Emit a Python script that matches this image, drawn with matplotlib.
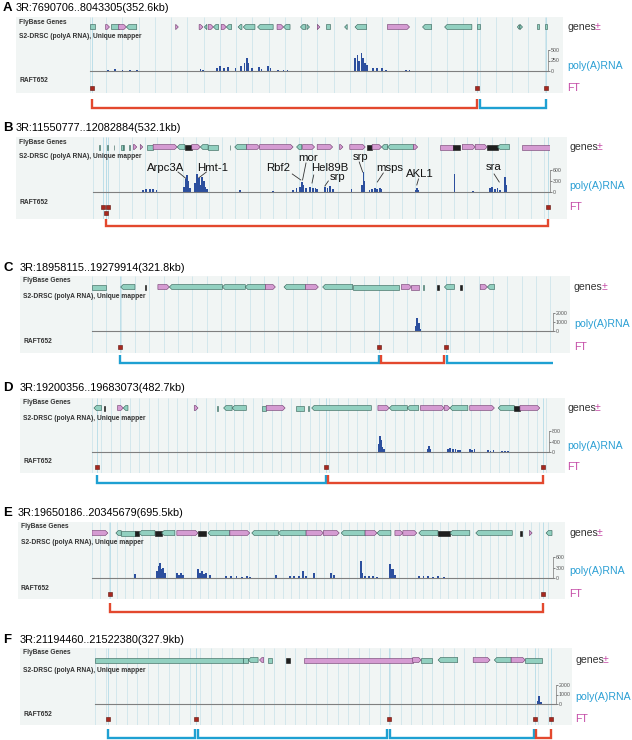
import numpy as np
import matplotlib.pyplot as plt
from matplotlib.patches import Polygon, Rectangle

plt.rcParams['font.family'] = ['Liberation Sans', 'DejaVu Sans']

# ---------------- data (positions in kb from window start) ----------------
letters = ['A', 'B', 'C', 'D', 'E', 'F']
titles = ['3R:7690706..8043305(352.6kb)', '3R:11550777..12082884(532.1kb)',
          '3R:18958115..19279914(321.8kb)', '3R:19200356..19683073(482.7kb)',
          '3R:19650186..20345679(695.5kb)', '3R:21194460..21522380(327.9kb)']
lengths = [352.6, 532.1, 321.8, 482.7, 695.5, 327.9]
cov_max = [500, 600, 2000, 800, 600, 2000]
grid_steps = [12.5, 15, 10, 10, 12.5, 7.5]

# genes: (start, end, strand, kind)  kind: t=teal, p=pink, k=dark
a_genes = [(0, 4, 0, 't'), (12, 15, 1, 'p'), (16, 22, 0, 't'), (22, 28, 1, 'p'), (28, 36, -1, 't'),
           (66, 68, 1, 'p'), (84, 87, 1, 'p'), (88, 90, -1, 't'), (91, 95, 1, 'p'), (95, 99, -1, 't'),
           (101, 105, 1, 'p'), (105, 109, -1, 't'), (114, 117, -1, 't'), (118, 127, -1, 't'),
           (129, 141, -1, 't'), (144, 149, 1, 'p'), (149, 154, -1, 't'), (162, 166, -1, 't'),
           (167, 169, 1, 't'), (175, 177, 1, 'p'), (182, 185, 0, 't'), (196, 198, -1, 't'),
           (204, 213, -1, 't'), (229, 246, 1, 'p'), (256, 263, -1, 't'), (273, 294, -1, 't'),
           (298, 300, 0, 't'), (329, 330.5, -1, 't'), (331, 333, 1, 't'), (344, 346, 0, 't'),
           (350, 352, 0, 't')]
b_genes = [(7, 8, 0, 't'), (16, 17, 0, 't'), (24, 25, 0, 't'), (33, 34.5, 0, 't'), (35, 36, 0, 't'),
           (42, 43, 0, 't'), (47, 51, 1, 'p'), (55, 58, 1, 'p'), (63, 70, 0, 't'), (70, 98, 1, 'p'),
           (98, 107, -1, 't'), (107, 115, 0, 'k'), (115, 125, 1, 'p'), (125, 134, -1, 't'),
           (134, 146, 0, 't'), (159, 160, 0, 't'), (165, 179, -1, 't'), (179, 194, 1, 'p'),
           (194, 233, 1, 'p'), (237, 243, -1, 't'), (244, 258, 1, 'p'), (261, 279, 1, 'p'),
           (287, 291, 1, 'p'), (299, 317, 1, 'p'), (319, 325, 0, 'k'), (325, 336, 1, 'p'),
           (336, 343, -1, 't'), (343, 373, -1, 't'), (373, 378, 1, 'p'), (404, 419, 0, 'p'),
           (419, 427, 0, 'k'), (430, 445, 1, 'p'), (445, 459, 1, 'p'), (459, 471, 0, 'k'),
           (471, 485, -1, 't'), (499, 532, 0, 'p')]
c_genes = [(0, 10, 0, 't'), (20, 30, -1, 't'), (37, 38, 0, 'k'), (46, 54, 1, 'p'), (54, 91, -1, 't'),
           (91, 107, -1, 't'), (107, 121, -1, 't'), (121, 128, 1, 'p'), (134, 149, -1, 't'),
           (149, 158, 1, 'p'), (161, 182, -1, 't'), (182, 214, 0, 't'), (216, 223, 1, 'p'),
           (223, 228, 0, 'p'), (231, 232, 0, 't'), (241, 242, 0, 'k'), (246, 253, -1, 't'),
           (257, 258, 0, 'k'), (271, 276, 1, 'p'), (276, 281, -1, 't')]
d_genes = [(2, 10, -1, 't'), (13, 14, 0, 'k'), (27, 33, 1, 'p'), (33, 38, -1, 't'), (108, 112, 1, 'p'),
           (132, 133, 0, 't'), (139, 148, -1, 't'), (148, 163, -1, 't'), (180, 184, 0, 't'),
           (184, 204, 1, 'p'), (215, 224, 0, 't'), (228, 229, 0, 't'), (232, 295, -1, 't'),
           (302, 314, 1, 'p'), (314, 333, -1, 't'), (333, 345, -1, 't'), (347, 372, 1, 'p'),
           (372, 378, 1, 'p'), (378, 397, -1, 't'), (399, 425, 1, 'p'), (429, 446, -1, 't'),
           (446, 452, 0, 'k'), (452, 473, 1, 'p')]
e_genes = [(0, 24, 1, 'p'), (36, 44, -1, 't'), (44, 65, 0, 't'), (65, 71, 0, 'k'), (71, 95, -1, 't'),
           (95, 105, 0, 'k'), (105, 125, -1, 't'), (128, 160, 1, 'p'), (160, 172, 0, 'k'),
           (175, 208, -1, 't'), (208, 238, 1, 'p'), (241, 281, -1, 't'), (281, 323, -1, 't'),
           (323, 349, 1, 'p'), (349, 373, 1, 'p'), (376, 412, -1, 't'), (412, 430, 1, 'p'),
           (430, 451, -1, 't'), (457, 469, 1, 'p'), (469, 490, 1, 'p'), (493, 522, -1, 't'),
           (522, 540, 0, 'k'), (540, 570, -1, 't'), (579, 634, -1, 't'), (646, 648, 0, 'k'),
           (660, 664, 1, 'p'), (685, 694, -1, 't')]
f_genes = [(0, 105, 0, 't'), (105, 109, 0, 't'), (109, 116, -1, 't'), (117, 120, -1, 'p'),
           (123, 126, 0, 't'), (136, 139, 0, 'k'), (149, 226, 0, 'p'), (226, 232, 1, 'p'),
           (232, 240, 0, 't'), (244, 258, -1, 't'), (269, 281, 1, 'p'), (284, 296, -1, 't'),
           (296, 306, 1, 'p'), (306, 318, 0, 't')]

# poly(A) RNA coverage: (kb, reads)
a_cov = [(14, 30), (19, 40), (25, 35), (31, 30), (36, 25), (85, 40), (87, 30), (98, 80), (100, 120),
         (103, 60), (106, 90), (112, 60), (116, 110), (119, 190), (121, 310), (122, 200), (125, 80),
         (130, 90), (132, 40), (137, 120), (139, 60), (145, 30), (149, 25), (152, 25), (204, 300),
         (206, 380), (207, 250), (209, 430), (210, 320), (212, 200), (213, 150), (218, 60), (221, 80),
         (225, 70), (228, 30), (243, 30), (246, 30)]
b_cov = [(58, 60), (62, 80), (66, 70), (70, 90), (74, 50), (106, 150), (108, 350), (109, 460),
         (111, 300), (113, 120), (119, 250), (121, 500), (123, 380), (125, 200), (127, 420), (129, 300),
         (131, 150), (133, 80), (171, 50), (210, 40), (233, 60), (237, 100), (241, 150), (243, 270),
         (245, 180), (248, 120), (253, 150), (256, 100), (259, 120), (261, 80), (270, 150), (273, 120),
         (276, 160), (279, 80), (301, 80), (313, 200), (315, 540), (316, 300), (322, 60), (325, 80),
         (328, 100), (331, 90), (334, 110), (336, 70), (376, 60), (377, 100), (378, 50), (421, 500),
         (442, 40), (462, 100), (465, 150), (468, 80), (471, 120), (474, 60), (480, 400), (481, 200)]
c_cov = [(226, 600), (227, 1500), (228, 900), (229, 200)]
d_cov = [(303, 300), (304, 615), (305, 450), (306, 200), (308, 100), (355, 100), (356, 230), (357, 120),
         (376, 120), (378, 150), (381, 100), (384, 130), (387, 90), (389, 60), (399, 120), (401, 90),
         (404, 110), (418, 60), (421, 50), (424, 60), (433, 40), (436, 50), (439, 30)]
e_cov = [(65, 120), (98, 200), (101, 350), (103, 440), (105, 250), (107, 300), (110, 150), (128, 150),
         (131, 100), (134, 130), (137, 80), (160, 250), (163, 150), (166, 200), (169, 120), (172, 150),
         (178, 80), (202, 60), (210, 50), (218, 60), (226, 40), (234, 50), (238, 30), (278, 80),
         (299, 60), (305, 50), (312, 60), (318, 200), (323, 60), (335, 150), (361, 150), (365, 80),
         (406, 490), (408, 150), (412, 60), (418, 50), (424, 60), (430, 40), (450, 400), (452, 250),
         (454, 250), (457, 100), (493, 60), (500, 50), (507, 60), (515, 40), (522, 50), (531, 30)]
f_cov = [(315, 300), (316, 800), (317, 200)]

# FT (RAFT652) fragments: (kb, row)
a_ft = [(1.5, 0), (298, 0), (351, 0)]
b_ft = [(11.6, 0), (17.5, 0), (15, 1), (530, 0)]
c_ft = [(19.5, 0), (200, 0), (247, 0)]
d_ft = [(5.3, 0), (247, 0), (476, 0)]
e_ft = [(27, 0), (681, 0)]
f_ft = [(9, 0), (72, 0), (209, 0), (313, 0), (324, 0)]

# brackets: (start, end, colour, left vertical, right vertical)
a_br = [(1.5, 298, 'r', True, True), (300, 351, 'b', True, True)]
b_br = [(15, 530, 'r', True, True)]
c_br = [(19.5, 200, 'b', True, True), (201.5, 246, 'r', True, True), (248, 322, 'b', True, False)]
d_br = [(5.3, 247, 'b', True, True), (249, 476, 'r', True, True)]
e_br = [(27, 681, 'r', True, True)]
f_br = [(9, 71, 'b', True, True), (73, 208, 'b', True, True), (210, 312, 'b', True, True),
        (314, 324, 'r', True, True)]

# gene labels in panel B: (name, kb, y, leader x0, leader x1, leader y0, leader y1)
b_labels = [('Arpc3A', 85, 31, 99, 109, 35, 42), ('Hmt-1', 139, 31, 132, 123, 35, 41),
            ('Rbf2', 216, 31, 232, 242, 37, 43), ('mor', 250, 21, 248, 244, 26, 43),
            ('Hel89B', 276, 31, 257, 255, 38, 46), ('srp', 285, 40, 274, 270, 44, 49),
            ('srp', 311, 20, 310, 314, 25, 35), ('msps', 346, 31, 338, 331, 36, 45),
            ('AKL1', 381, 37, 379, 377, 42, 48), ('sra', 467, 30, 467, 473, 37, 45)]

genes = [a_genes, b_genes, c_genes, d_genes, e_genes, f_genes]
covs = [a_cov, b_cov, c_cov, d_cov, e_cov, f_cov]
fts = [a_ft, b_ft, c_ft, d_ft, e_ft, f_ft]
brs = [a_br, b_br, c_br, d_br, e_br, f_br]

# ---------------- layout (pixels) ----------------
layout = [
    dict(title=8, box=(16, 17, 563, 93), data=(90, 548), genes=27, base=71, top=50, ft=88, rna=66, br=108, brtop=99, rx=567),
    dict(title=128, box=(16, 137, 567, 219), data=(93, 550), genes=147, base=192, top=170, ft=207, rna=186, br=226, brtop=219, rx=569),
    dict(title=268, box=(20, 276, 570, 353), data=(92, 553), genes=287, base=331, top=313, ft=347, rna=324, br=363, brtop=355, rx=574),
    dict(title=388, box=(20, 398, 565, 473), data=(92, 549), genes=408, base=452, top=431, ft=467, rna=446, br=483, brtop=475, rx=567),
    dict(title=513, box=(18, 522, 565, 599), data=(92, 553), genes=533, base=578, top=557, ft=594, rna=571, br=612, brtop=603, rx=569),
    dict(title=640, box=(20, 648, 572, 725), data=(95, 556), genes=660, base=704, top=685, ft=719, rna=697, br=738, brtop=729, rx=575),
]

W, H = 632, 740
fig = plt.figure(figsize=(W / 100, H / 100), dpi=100)

fills = {'t': '#92d0c0', 'p': '#d59bd2', 'k': '#1e1e1e'}
edges = {'t': '#2e5c52', 'p': '#6c3a6a', 'k': '#111111'}
bcol = {'r': '#e3482e', 'b': '#1ea0d2'}


def fr(x0, y0, x1, y1):
    return [x0 / W, 1 - y1 / H, (x1 - x0) / W, (y1 - y0) / H]


for i in range(6):
    L = layout[i]
    bx0, by0, bx1, by1 = L['box']
    dx0, dx1 = L['data']
    length = lengths[i]
    kpp = length / (dx1 - dx0)
    bh = by1 - by0

    fig.add_artist(Rectangle((bx0 / W, 1 - by1 / H), (bx1 - bx0) / W, bh / H,
                             transform=fig.transFigure, facecolor='#f1f5f4',
                             edgecolor='none', zorder=-2))

    # titles
    fig.text(3 / W, 1 - L['title'] / H, letters[i], fontsize=9.5, weight='bold', va='center')
    fig.text(bx0 / W, 1 - L['title'] / H, titles[i], fontsize=7.8, va='center')

    # track labels
    fig.text((bx0 + 3) / W, 1 - (by0 + 5) / H, 'FlyBase Genes', fontsize=4.8,
             weight='bold', color='#333333', va='center')
    fig.text((bx0 + 3) / W, 1 - (L['genes'] + 10) / H, 'S2-DRSC (polyA RNA), Unique mapper',
             fontsize=4.8, weight='bold', color='#333333', va='center')
    fig.text((bx0 + 3) / W, 1 - (L['base'] + 10) / H, 'RAFT652', fontsize=4.8,
             weight='bold', color='#333333', va='center')

    fig.text(L['rx'] / W, 1 - L['genes'] / H, 'genes', fontsize=7.6, color='#333333', va='center')
    fig.text((L['rx'] + 28) / W, 1 - L['genes'] / H, '±', fontsize=7.6, color='#c44aa6', va='center')
    fig.text(L['rx'] / W, 1 - L['rna'] / H, 'poly(A)RNA', fontsize=7.6, color='#2a9fd4', va='center')
    fig.text(L['rx'] / W, 1 - L['ft'] / H, 'FT', fontsize=7.6, color='#c44aa6', va='center')

    # main track axes: x in kb, y in pixels below box top
    ax = fig.add_axes(fr(dx0, by0, dx1, by1))
    ax.set_xlim(0, length)
    ax.set_ylim(bh, 0)
    ax.axis('off')

    ax.vlines(np.arange(0, length, grid_steps[i]), 0, bh, color='#cfe5eb', lw=0.6, zorder=0)
    ax.vlines([p for p, r in fts[i]], 0, bh, color='#b5dbe8', lw=0.6, zorder=0)

    gy = L['genes'] - by0
    gh = 2.5
    head = 2.5 * kpp
    for s, e, strand, kind in genes[i]:
        hd = min(head, e - s)
        if strand == 1:
            pts = [(s, gy - gh), (e - hd, gy - gh), (e, gy), (e - hd, gy + gh), (s, gy + gh)]
        elif strand == -1:
            pts = [(e, gy - gh), (s + hd, gy - gh), (s, gy), (s + hd, gy + gh), (e, gy + gh)]
        else:
            pts = [(s, gy - gh), (e, gy - gh), (e, gy + gh), (s, gy + gh)]
        ax.add_patch(Polygon(pts, closed=True, facecolor=fills[kind], edgecolor=edges[kind],
                             lw=0.4, zorder=2))

    # FT fragments
    fx = [p for p, r in fts[i]]
    fy = [L['ft'] - by0 + 6 * r for p, r in fts[i]]
    ax.scatter(fx, fy, marker='s', s=11, c='#a8281f', edgecolors='#5e120c', linewidths=0.4,
               zorder=3, clip_on=False)

    # brackets below the box
    y0 = L['brtop'] - by0
    y1 = L['br'] - by0
    for s, e, c, lv, rv in brs[i]:
        xs, ys = [], []
        if lv:
            xs.append(s)
            ys.append(y0)
        xs += [s, e]
        ys += [y1, y1]
        if rv:
            xs.append(e)
            ys.append(y0)
        ax.plot(xs, ys, color=bcol[c], lw=1.7, clip_on=False, solid_joinstyle='miter',
                solid_capstyle='butt')

    if i == 1:
        for name, x, y, lx0, lx1, ly0, ly1 in b_labels:
            ax.text(x, y, name, fontsize=8.2, ha='center', va='center', color='#111111', zorder=4)
            ax.plot([lx0, lx1], [ly0, ly1], color='#333333', lw=0.6, zorder=4)

    # coverage track
    cax = fig.add_axes(fr(dx0, L['top'], dx1, L['base']))
    cax.patch.set_alpha(0)
    cax.set_xlim(0, length)
    cax.set_ylim(0, cov_max[i])
    cx = [p for p, v in covs[i]]
    cv = [v for p, v in covs[i]]
    cax.bar(cx, cv, width=1.8 * kpp, color='#2c4f9e', edgecolor='none', zorder=2)
    for side in ['top', 'left']:
        cax.spines[side].set_visible(False)
    cax.spines['bottom'].set_color('#7f7f7f')
    cax.spines['bottom'].set_linewidth(0.8)
    cax.spines['right'].set_color('#777777')
    cax.spines['right'].set_linewidth(0.5)
    cax.set_xticks([])
    cax.yaxis.tick_right()
    m = cov_max[i]
    cax.set_yticks([0, m / 2, m])
    cax.set_yticklabels(['0', str(m // 2), str(m)])
    cax.tick_params(axis='y', length=1.5, width=0.5, pad=0.5, labelsize=3.8, colors='#555555')

fig.savefig('out.png', dpi=100)
